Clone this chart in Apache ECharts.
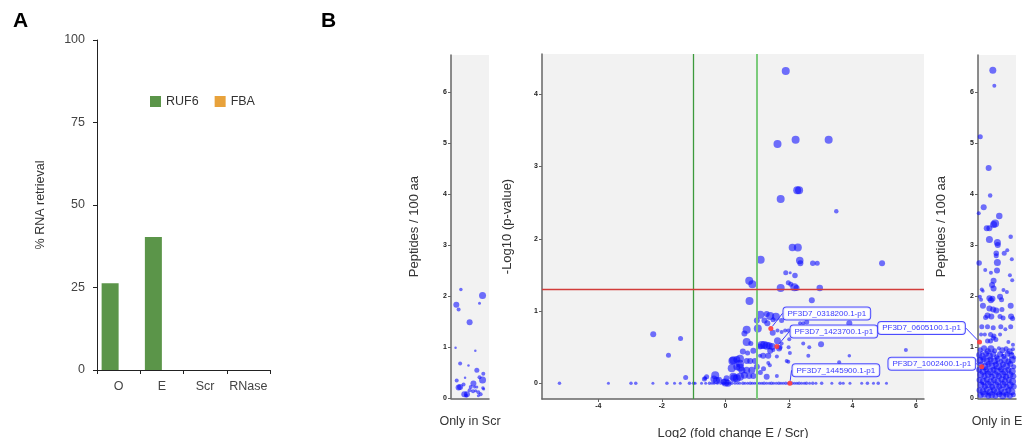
<!DOCTYPE html>
<html>
<head>
<meta charset="utf-8">
<script src="https://cdn.jsdelivr.net/npm/echarts@6/dist/echarts.min.js"></script>
<style>
  html, body { margin: 0; background: #fff; }
  #chart { width: 1028px; height: 438px; }
</style>
</head>
<body>
<div id="chart"></div>
<script>
'use strict';

/* Panel A data */
var retrievalCats = ['O', 'E', 'Scr', 'RNase'];
var ruf6 = [26.3, 40.3, 0, 0];
var fba = [0, 0, 0, 0];

/* Panel B: volcano points [log2 FC, -log10 p, weight] */
var volcano = [
  [1.90,4.32,8],[1.64,3.31,8],[2.21,3.37,8],[3.25,3.37,8],[2.26,2.67,8],[2.32,2.67,8],[1.74,2.55,8],
  [3.49,2.38,4.5],[2.11,1.88,7.5],[2.28,1.88,8],[1.11,1.71,8],[2.34,1.70,7.5],[2.36,1.66,6],[2.75,1.66,5.5],
  [2.89,1.66,5],[4.93,1.66,6],[1.90,1.53,5],[2.04,1.53,3],[2.19,1.49,5.5],[0.75,1.42,8],[0.85,1.37,8],
  [1.98,1.39,5],[2.06,1.37,5],[1.74,1.32,8],[2.17,1.33,8],[2.24,1.32,6],[2.97,1.32,6.5],
  [0.76,1.14,8],[2.72,1.15,6],[1.10,0.95,8],[1.41,0.93,8],[1.59,0.92,8],[1.30,0.96,6],[0.99,0.87,6],
  [1.23,0.87,6],[1.32,0.83,6],[1.50,0.88,5],[1.77,0.87,5],[2.35,0.83,4],[2.45,0.83,4],[2.56,0.85,5],
  [3.90,0.83,6],[1.02,0.76,8],[0.67,0.74,8],[0.60,0.69,6],[1.49,0.70,6],[1.64,0.73,4],[1.77,0.71,4],
  [1.88,0.73,4],[1.98,0.73,4],
  [-2.27,0.68,6],[-1.41,0.62,5],[-1.79,0.39,5],[-1.25,0.08,5],
  [1.14,0.53,8],[1.22,0.53,8],[1.30,0.52,8],[1.38,0.52,7],[1.47,0.51,7],[1.64,0.59,7],[1.69,0.48,6],
  [1.51,0.46,4],[1.77,0.55,4],[2.01,0.61,4],[1.99,0.50,4],[2.03,0.42,4],[1.72,0.50,5],[2.45,0.55,4],
  [2.64,0.50,4],[3.01,0.54,6],[0.67,0.57,8],[0.55,0.44,6],[0.88,0.45,6],[1.09,0.51,6],[1.09,0.38,4],
  [2.61,0.38,4],[1.93,0.31,4],[3.58,0.29,4],[3.90,0.38,3.5],[5.68,0.46,4],
  [0.25,0.32,8],[0.36,0.33,7],[0.46,0.34,8],[0.46,0.27,8],[0.46,0.22,8],[0.67,0.31,6],[0.78,0.31,6],
  [0.93,0.31,6],[1.41,0.45,6],[1.35,0.38,6],[1.19,0.38,6],[1.62,0.37,4],[1.98,0.30,4],[1.35,0.28,4],
  [1.40,0.25,4],[0.52,0.18,7],[0.67,0.18,7],[0.83,0.18,7],[0.99,0.23,6],[0.20,0.21,8],[0.36,0.23,7],
  [0.25,0.09,8],[0.36,0.07,8],[0.46,0.09,8],[0.60,0.11,7],[0.75,0.10,6],[-0.32,0.11,8],[-0.36,0.06,7],
  [-0.28,0.04,7],[-0.64,0.07,4],[-0.59,0.09,5],[-0.66,0.06,5],[-0.20,0.05,6],[0.00,0.01,8],[0.08,0.00,7],
  [-0.05,0.02,6],[0.04,0.07,6],[0.88,0.10,6],[1.30,0.09,6],[1.62,0.10,4],[0.22,0.31,8],[0.28,0.07,8],
  [1.10,0.15,5],[1.20,0.20,5],[0.70,0.42,5],[0.80,0.55,5],
  [-5.22,0,3.5],[-3.68,0,3],[-2.97,0,3.5],[-2.82,0,3.5],[-2.28,0,3],[-1.84,0,3.5],[-1.60,0,3],[-1.42,0,3],
  [-1.13,0,3.5],[-1.00,0,3.5],[-0.95,0,3],[-0.75,0,3],[-0.62,0,3],[-0.50,0,3.5],[-0.42,0,3],[-0.35,0,3],
  [-0.25,0,3],[-0.15,0,3],[-0.05,0,3.5],[0.05,0,3],[0.12,0,3],[0.20,0,3.5],[0.30,0,3],[0.38,0,3],
  [0.45,0,3],[0.55,0,3.5],[0.62,0,3],[0.70,0,3],[0.78,0,3.5],[0.85,0,3],[0.92,0,3],[1.00,0,3.5],
  [1.08,0,3],[1.15,0,3],[1.22,0,3.5],[1.30,0,3],[1.38,0,3],[1.45,0,3.5],[1.52,0,3],[1.60,0,3],
  [1.68,0,3.5],[1.75,0,3],[1.82,0,3],[1.90,0,3.5],[1.98,0,3],[2.10,0,3.5],[2.18,0,3],[2.25,0,3],
  [2.32,0,3.5],[2.40,0,3],[2.48,0,3],[2.55,0,3.5],[2.65,0,3],[2.75,0,3.5],[2.85,0,3],[3.03,0,3.5],
  [3.35,0,3],[3.61,0,3.5],[3.71,0,3],[3.92,0,3],[4.29,0,3],[4.47,0,3.5],[4.66,0,3],[4.81,0,3.5],[5.07,0,3]
];
var highlighted = [[1.43, 0.76], [1.62, 0.51], [2.03, 0]];
var highlightedNames = ['PF3D7_0318200.1-p1', 'PF3D7_1423700.1-p1', 'PF3D7_1445900.1-p1'];
var log2Ticks = [-4, -2, 0, 2, 4, 6];
var pTicks = [0, 1, 2, 3, 4];
var pCutoff = 1.301;
var fcCutoffs = [-1, 1];

/* Panel B strips: [jitter, peptides / 100 aa, weight] */
var onlyScr = [
  [0.26,2.13,3.5],[0.83,2.01,7],[0.14,1.83,6],[0.20,1.74,4],[0.75,1.86,3],[0.49,1.49,6],[0.12,0.99,2.5],
  [0.64,0.93,2.5],[0.24,0.68,4],[0.46,0.64,2.5],[0.68,0.55,5],[0.85,0.48,4],[0.15,0.35,4],[0.37,0.40,2.5],
  [0.75,0.41,4],[0.83,0.36,7],[0.33,0.27,4],[0.59,0.29,6],[0.20,0.21,6],[0.24,0.22,6],[0.52,0.22,4],
  [0.62,0.22,3],[0.68,0.22,3],[0.84,0.20,3.5],[0.49,0.16,4],[0.58,0.14,4],[0.65,0.15,3],[0.72,0.12,4],
  [0.35,0.08,6],[0.42,0.08,6],[0.78,0.08,4],[0.72,0.05,3],[0.40,0.05,4],[0.86,0.18,3]
];
var onlyE = [
  [0.39,6.42,7],[0.43,6.12,4],[0.06,5.12,5],[0.28,4.51,6],[0.32,3.97,4.5],[0.15,3.74,6],[0.02,3.62,4],
  [0.56,3.57,6.5],[0.45,3.42,8],[0.41,3.40,7],[0.23,3.33,6],[0.30,3.33,6],[0.86,3.16,4.5],[0.30,3.11,7],
  [0.51,3.05,7],[0.52,3.00,6],[0.77,2.90,4],[0.48,2.84,5.5],[0.48,2.79,5],[0.69,2.84,5],[0.89,2.72,4],
  [0.51,2.66,7],[0.03,2.65,5.5],[0.34,2.46,4],[0.19,2.51,4],[0.50,2.50,6],[0.84,2.41,4],[0.90,2.31,4],
  [0.41,2.30,6],[0.10,2.13,4],[0.13,2.10,3.5],[0.37,2.22,6],[0.41,2.15,6],[0.67,2.12,4],[0.76,2.08,4],
  [0.30,1.96,6],[0.34,1.92,6],[0.38,1.95,6],[0.58,1.99,6],[0.62,1.93,5],[0.05,1.99,4],[0.08,1.93,4],
  [0.13,1.81,6],[0.86,1.81,6],[0.30,1.76,6],[0.40,1.74,6],[0.48,1.72,6],[0.63,1.74,5],[0.25,1.62,6],
  [0.35,1.60,6],[0.20,1.58,5],[0.58,1.60,5],[0.66,1.57,5],[0.87,1.60,6],[0.91,1.56,5],[0.10,1.40,5],
  [0.25,1.40,5],[0.40,1.38,5],[0.60,1.40,5],[0.72,1.35,4],[0.86,1.40,5],[0.08,1.25,4],[0.18,1.25,4],
  [0.33,1.25,5],[0.42,1.22,5],[0.58,1.25,4],[0.25,1.12,5],[0.33,1.12,5],[0.40,1.18,5],[0.47,1.15,5],
  [0.80,1.10,4],[0.92,1.05,4],
  [0.06,0.95,5],[0.16,0.98,6],[0.26,0.92,6],[0.34,0.97,7],[0.44,0.93,5],[0.55,0.98,4],[0.64,0.94,6],
  [0.74,0.97,5],[0.83,0.92,6],[0.92,0.96,4],
  [0.03,0.85,6],[0.12,0.82,7],[0.21,0.87,6],[0.30,0.83,7],[0.40,0.86,6],[0.49,0.81,5],[0.58,0.86,6],
  [0.68,0.82,5],[0.78,0.87,6],[0.88,0.84,6],[0.95,0.80,4],
  [0.05,0.74,7],[0.15,0.77,6],[0.24,0.72,7],[0.33,0.76,6],[0.43,0.73,7],[0.52,0.77,6],[0.60,0.72,5],
  [0.70,0.76,7],[0.80,0.72,6],[0.90,0.75,7],
  [0.08,0.66,6],[0.18,0.62,7],[0.28,0.67,6],[0.37,0.63,7],[0.47,0.66,6],[0.56,0.62,7],[0.66,0.66,6],
  [0.75,0.63,7],[0.85,0.67,6],[0.94,0.62,5],
  [0.03,0.56,6],[0.13,0.53,7],[0.22,0.57,6],[0.32,0.52,7],[0.41,0.56,6],[0.51,0.53,7],[0.61,0.57,6],
  [0.70,0.52,7],[0.80,0.56,6],[0.90,0.53,7],
  [0.07,0.46,7],[0.17,0.43,6],[0.27,0.47,7],[0.36,0.42,6],[0.46,0.46,7],[0.55,0.43,6],[0.65,0.47,7],
  [0.74,0.42,6],[0.84,0.46,7],[0.93,0.43,6],
  [0.04,0.36,6],[0.14,0.33,7],[0.23,0.37,6],[0.33,0.32,7],[0.42,0.36,6],[0.52,0.33,7],[0.62,0.37,6],
  [0.71,0.32,7],[0.81,0.36,6],[0.91,0.33,7],
  [0.08,0.26,7],[0.18,0.23,6],[0.27,0.27,7],[0.37,0.22,6],[0.47,0.26,7],[0.56,0.23,6],[0.66,0.27,7],
  [0.75,0.22,6],[0.85,0.26,7],[0.94,0.23,6],
  [0.04,0.16,6],[0.13,0.13,7],[0.23,0.17,6],[0.32,0.12,7],[0.42,0.16,6],[0.51,0.13,7],[0.61,0.17,6],
  [0.70,0.12,7],[0.80,0.16,6],[0.89,0.13,7],
  [0.07,0.06,6],[0.17,0.08,7],[0.27,0.05,6],[0.36,0.07,7],[0.46,0.05,6],[0.56,0.08,6],[0.65,0.05,7],
  [0.75,0.07,6],[0.84,0.05,6],[0.93,0.07,5],
  [0.10,0.90,3],[0.50,0.70,3],[0.20,0.50,3],[0.70,0.40,3],[0.35,0.20,3],[0.60,0.10,3],[0.90,0.88,3],
  [0.45,0.60,3],[0.12,0.30,3],[0.85,0.20,3],[0.25,0.10,3],[0.65,0.85,3]
];
var highlightedE = [[0.04, 1.10], [0.10, 0.62]];
var highlightedENames = ['PF3D7_0605100.1-p1', 'PF3D7_1002400.1-p1'];
var peptideTicks = [0, 1, 2, 3, 4, 5, 6];

/* styling */
var blue = 'rgba(10,10,255,0.72)';
var red = '#ff3b3b';
var font = 'Liberation Sans';
var mainLabelShift = [[56, -15], [57, -15], [46, -13]];
var eLabelShift = [[-58, -14], [-50, -3]];

function weightSize(d) { return d[2]; }
function named(points, names) {
  return points.map(function (p, i) { return { name: names[i], value: p }; });
}

var axisGreyLine = { color: '#666', width: 1.5 };
var smallLabel = { fontSize: 7, color: '#222', fontFamily: font, fontWeight: 'bold', margin: 4 };
var smallTick = { show: true, length: 3, lineStyle: { color: '#666' } };

function stripYAxis(grid) {
  return {
    type: 'value', gridIndex: grid, min: 0, max: 6.72,
    name: 'Peptides / 100 aa', nameLocation: 'middle', nameGap: 30,
    nameTextStyle: { fontSize: 13, color: '#333', fontFamily: font },
    axisLine: { show: true, lineStyle: axisGreyLine },
    axisTick: Object.assign({ customValues: peptideTicks }, smallTick),
    axisLabel: Object.assign({ customValues: peptideTicks }, smallLabel),
    splitLine: { show: false }
  };
}
function stripXAxis(grid, title) {
  return {
    type: 'value', gridIndex: grid, min: 0, max: 1,
    name: title, nameLocation: 'middle', nameGap: 17,
    nameTextStyle: { fontSize: 12.5, color: '#333', fontFamily: font },
    axisLine: { show: true, onZero: false, lineStyle: axisGreyLine },
    axisTick: { show: false }, axisLabel: { show: false }, splitLine: { show: false }
  };
}
function labelSeries(grid, points, names, shifts) {
  return {
    type: 'scatter', xAxisIndex: grid, yAxisIndex: grid, z: 10,
    data: named(points, names),
    symbolSize: 5,
    itemStyle: { color: red, opacity: 0.9 },
    label: {
      show: true, position: 'inside', formatter: '{b}',
      fontSize: 8, fontFamily: font, color: '#2525ff',
      backgroundColor: 'rgba(255,255,255,0.92)', borderColor: '#3a3aff', borderWidth: 1,
      borderRadius: 3, padding: [2, 4]
    },
    labelLine: { show: true, lineStyle: { color: '#3a3aff', width: 1 } },
    labelLayout: function (p) {
      var s = shifts[p.dataIndex];
      return { dx: s[0], dy: s[1] };
    }
  };
}
/* reference line as its own empty series so its style is not shared */
function refLine(item, color, width) {
  return {
    type: 'line', xAxisIndex: 2, yAxisIndex: 2, data: [], z: 3,
    color: color,
    markLine: {
      silent: true, symbol: 'none', label: { show: false }, animation: false,
      lineStyle: { color: color, width: width, type: 'solid', opacity: 1 },
      emphasis: { disabled: true },
      data: [item]
    }
  };
}

var chart = echarts.init(document.getElementById('chart'));

chart.setOption({
  animation: false,
  title: [
    { text: 'A', left: 8, top: 6, textStyle: { fontSize: 21, fontWeight: 'bold', color: '#000', fontFamily: font } },
    { text: 'B', left: 316, top: 6, textStyle: { fontSize: 21, fontWeight: 'bold', color: '#000', fontFamily: font } }
  ],
  legend: {
    data: ['RUF6', 'FBA'], left: 145, top: 90, icon: 'rect',
    itemWidth: 11, itemHeight: 11, itemGap: 16,
    textStyle: { fontSize: 12.5, color: '#333', fontFamily: font }
  },
  grid: [
    { left: 97, top: 40, width: 173, height: 330, outerBoundsMode: 'none' },
    { left: 451, top: 55, width: 38, height: 343.3, show: true, backgroundColor: '#f2f2f2', borderWidth: 0, outerBoundsMode: 'none' },
    { left: 542, top: 54, width: 382, height: 345, show: true, backgroundColor: '#f2f2f2', borderWidth: 0, outerBoundsMode: 'none' },
    { left: 978, top: 55, width: 38, height: 343.3, show: true, backgroundColor: '#f2f2f2', borderWidth: 0, outerBoundsMode: 'none' }
  ],
  xAxis: [
    {
      type: 'category', gridIndex: 0, data: retrievalCats,
      axisLine: { lineStyle: { color: '#222', width: 1 } },
      axisTick: { show: true, length: 4, interval: 0, alignWithLabel: false, lineStyle: { color: '#222' } },
      axisLabel: { interval: 0, fontSize: 12.5, color: '#444', fontFamily: font, margin: 10 }
    },
    stripXAxis(1, 'Only in Scr'),
    {
      type: 'value', gridIndex: 2, min: -5.77, max: 6.25,
      name: 'Log2 (fold change E / Scr)', nameLocation: 'middle', nameGap: 28,
      nameTextStyle: { fontSize: 13, color: '#333', fontFamily: font },
      axisLine: { show: true, onZero: false, lineStyle: axisGreyLine },
      axisTick: Object.assign({ customValues: log2Ticks }, smallTick),
      axisLabel: Object.assign({ customValues: log2Ticks }, smallLabel),
      splitLine: { show: false }
    },
    stripXAxis(3, 'Only in E')
  ],
  yAxis: [
    {
      type: 'value', gridIndex: 0, min: 0, max: 100, interval: 25,
      name: '% RNA retrieval', nameLocation: 'middle', nameGap: 50,
      nameTextStyle: { fontSize: 12.5, color: '#333', fontFamily: font },
      axisLine: { show: true, lineStyle: { color: '#222', width: 1 } },
      axisTick: { show: true, length: 4, lineStyle: { color: '#222' } },
      axisLabel: { fontSize: 12.5, color: '#444', fontFamily: font, margin: 12 },
      splitLine: { show: false }
    },
    stripYAxis(1),
    {
      type: 'value', gridIndex: 2, min: -0.217, max: 4.556,
      name: '-Log10 (p-value)', nameLocation: 'middle', nameGap: 28,
      nameTextStyle: { fontSize: 13, color: '#333', fontFamily: font },
      axisLine: { show: true, onZero: false, lineStyle: axisGreyLine },
      axisTick: Object.assign({ customValues: pTicks }, smallTick),
      axisLabel: Object.assign({ customValues: pTicks }, smallLabel),
      splitLine: { show: false }
    },
    stripYAxis(3)
  ],
  series: [
    { name: 'RUF6', type: 'bar', xAxisIndex: 0, yAxisIndex: 0, data: ruf6, barWidth: 17, barGap: 0, itemStyle: { color: '#5b9549' } },
    { name: 'FBA', type: 'bar', xAxisIndex: 0, yAxisIndex: 0, data: fba, barWidth: 17, barGap: 0, itemStyle: { color: '#e8a23b' } },
    {
      type: 'scatter', xAxisIndex: 1, yAxisIndex: 1, data: onlyScr,
      symbolSize: weightSize, itemStyle: { color: blue }
    },
    refLine({ xAxis: fcCutoffs[0] }, '#3c9a3c', 1.3),
    refLine({ xAxis: fcCutoffs[1] }, '#7ccb7c', 2),
    refLine({ yAxis: pCutoff }, '#d23c3a', 1.3),
    {
      type: 'scatter', xAxisIndex: 2, yAxisIndex: 2, data: volcano, z: 4,
      symbolSize: weightSize, itemStyle: { color: blue }
    },
    labelSeries(2, highlighted, highlightedNames, mainLabelShift),
    {
      type: 'scatter', xAxisIndex: 3, yAxisIndex: 3, data: onlyE,
      symbolSize: weightSize, itemStyle: { color: blue }
    },
    labelSeries(3, highlightedE, highlightedENames, eLabelShift)
  ]
});
</script>
</body>
</html>
